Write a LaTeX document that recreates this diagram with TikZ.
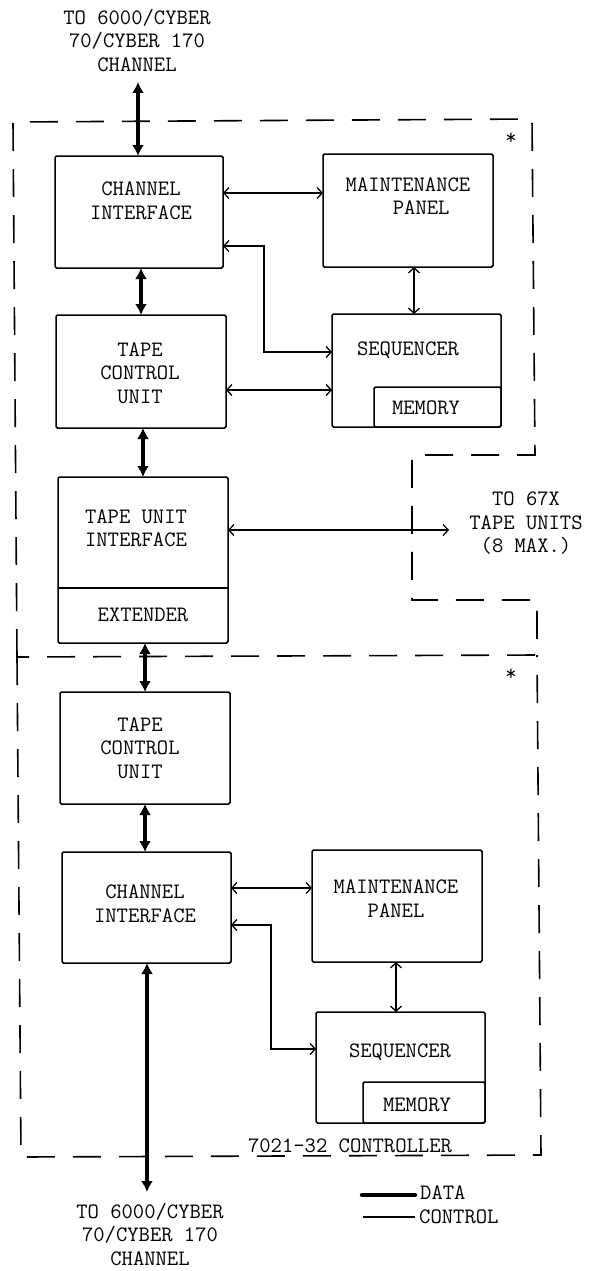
\documentclass[tikz,border=0pt]{standalone}
\usepackage{fontspec}
\usetikzlibrary{arrows.meta,calc}
\begin{document}
\begin{tikzpicture}[x=1pt,y=-1pt,
  box/.style={draw, line width=1.5pt, rounded corners=1.5pt, inner sep=0pt, outer sep=0pt},
  lbl/.style={font=\ttfamily\fontsize{22}{23.5}\selectfont, align=center, inner sep=0pt},
  data/.style={line width=4.5pt, {Latex[length=11pt,width=12pt]}-{Latex[length=11pt,width=12pt]}},
  ctrl/.style={line width=1.3pt, {Straight Barb[length=5pt,width=11pt]}-{Straight Barb[length=5pt,width=11pt]}},
  frame/.style={line width=1.6pt, dash pattern=on 28pt off 18pt},
]
\useasboundingbox (0,0) rectangle (589,1271);

% dashed frames
\draw[frame] (17,657) -- (13,122) -- (532,119) -- (535,455) -- (412,455) -- (412,600) -- (537,600) -- (537,655) -- cycle;
\draw[frame] (17,657) -- (21,1157) -- (541,1155) -- (537,655);

% upper controller
\node[box, minimum width=168pt, minimum height=112pt] (ci1) at (139,212) {};
\node[lbl] (ci1t) at (141,201) {CHANNEL\\INTERFACE};
\node[box, minimum width=170pt, minimum height=113pt] (mp1) at (408,210.5) {};
\node[lbl] (mp1t) at (408,196) {MAINTENANCE\\\hspace*{1.2em}PANEL};
\node[box, minimum width=170pt, minimum height=113pt] (tcu1) at (141,371.5) {};
\node[lbl] (tcu1t) at (140,373) {TAPE\\CONTROL\\UNIT};
\node[box, minimum width=169pt, minimum height=113pt] (seq1) at (416.5,370.5) {};
\node[box, minimum width=127pt, minimum height=40pt] (mem1) at (437.5,407) {};
\node[lbl] (seq1t) at (408,350) {SEQUENCER};
\node[lbl] (mem1t) at (426,408) {MEMORY};
\node[box, minimum width=170pt, minimum height=166pt] (tui1) at (143,560) {};
\draw[box] (tui1.west |- 0,588) -- (tui1.east |- 0,588);
\node[lbl] (tui1t) at (136,528.5) {TAPE UNIT\\INTERFACE};
\node[lbl] (ext1t) at (143,615) {EXTENDER};

% lower controller
\node[box, minimum width=170pt, minimum height=112pt] (tcu2) at (145,748) {};
\node[lbl] (tcu2t) at (140,748) {TAPE\\CONTROL\\UNIT};
\node[box, minimum width=169pt, minimum height=111pt] (ci2) at (146.5,907.5) {};
\node[lbl] (ci2t) at (145,903.5) {CHANNEL\\INTERFACE};
\node[box, minimum width=170pt, minimum height=112pt] (mp2) at (397,906) {};
\node[lbl] (mp2t) at (396,898.5) {MAINTENANCE\\PANEL};
\node[box, minimum width=169pt, minimum height=111pt] (seq2) at (400.5,1067.5) {};
\node[box, minimum width=122pt, minimum height=41pt] (mem2) at (424,1102.5) {};
\node[lbl] (seq2t) at (400,1052) {SEQUENCER};
\node[lbl] (mem2t) at (417,1105) {MEMORY};

% outside texts
\node[lbl] (top) at (137,40) {TO 6000/CYBER\\70/CYBER 170\\CHANNEL};
\node[lbl] (bot) at (150,1234) {TO 6000/CYBER\\70/CYBER 170\\CHANNEL};
\node[lbl] (tape) at (526,523.5) {TO 67X\\TAPE UNITS\\(8 MAX.)};
\node[lbl] (star1) at (511,139) {*};
\node[lbl] (star2) at (511,675) {*};
\node[lbl] (ctl) at (350,1146) {7021-32 CONTROLLER};

% coordinates for free ends
\coordinate (chtop) at (138,82);
\coordinate (chbot) at (147,1192);
\coordinate (tapeend) at (449,530);

% data connectors
\draw[data] (chtop) -- (chtop |- ci1.north);
\draw[data] (tcu1.north) -- (tcu1.north |- ci1.south);
\draw[data] (tui1.north) -- (tui1.north |- tcu1.south);
\draw[data] (tcu2.north) -- (tcu2.north |- tui1.south);
\draw[data] (tcu2.south) -- (tcu2.south |- ci2.north);
\draw[data] (chbot |- ci2.south) -- (chbot);

% control connectors
\draw[ctrl] (ci1.east |- 0,193) -- (mp1.west |- 0,193);
\draw[ctrl] (ci1.east |- 0,246) -- (264,246) -- (264,352) -- (seq1.west |- 0,352);
\draw[ctrl] (mp1.south -| 414,0) -- (seq1.north -| 414,0);
\draw[ctrl] (tcu1.east |- 0,390) -- (seq1.west |- 0,390);
\draw[ctrl] (tui1.east |- tapeend) -- (tapeend);
\draw[ctrl] (ci2.east |- 0,888) -- (mp2.west |- 0,888);
\draw[ctrl] (ci2.east |- 0,925) -- (271,925) -- (271,1049) -- (seq2.west |- 0,1049);
\draw[ctrl] (mp2.south -| 396,0) -- (seq2.north -| 396,0);

% legend
\coordinate (lg1a) at (362,1195);
\coordinate (lg1b) at (415,1195);
\coordinate (lg2a) at (363,1217);
\coordinate (lg2b) at (415,1217);
\draw[line width=4.5pt, line cap=round] (lg1a) -- (lg1b);
\draw[line width=1.3pt] (lg2a) -- (lg2b);
\node[lbl, anchor=west] (lgdata) at (420,1193) {DATA};
\node[lbl, anchor=west] (lgctrl) at (419,1217) {CONTROL};
\end{tikzpicture}
\end{document}
